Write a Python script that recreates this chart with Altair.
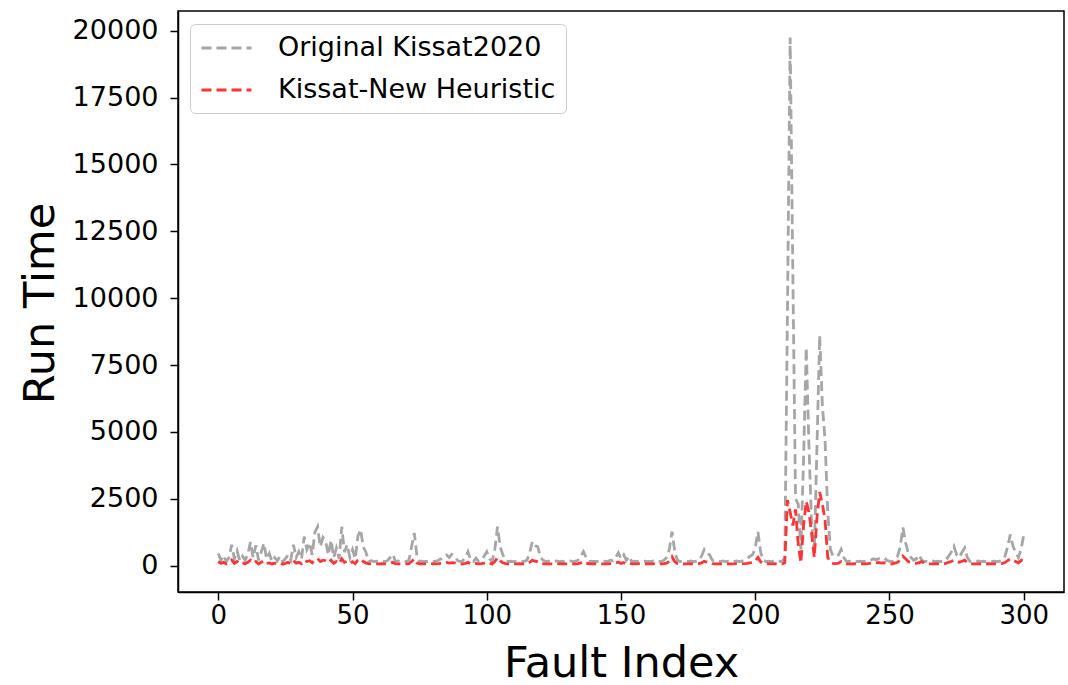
import altair as alt
import pandas as pd

# Run time per fault, original solver
original_runtime = [
    450, 200, 380, 150, 300, 780, 250, 550, 180, 350, 200, 420, 880, 300, 760, 200, 500, 840, 250, 450,
    150, 300, 180, 350, 150, 250, 400, 200, 780, 300, 520, 250, 1080, 600, 850, 400, 1250, 1450, 700, 1050,
    900, 400, 950, 300, 650, 250, 1450, 500, 780, 300, 600, 250, 1100, 1350, 700, 500, 150, 180, 150, 160,
    150, 170, 150, 180, 300, 420, 150, 170, 150, 160, 150, 200, 700, 1220, 350, 150, 160, 150, 150, 170,
    150, 160, 200, 250, 350, 400, 300, 420, 350, 200, 150, 170, 300, 520, 200, 150, 280, 150, 200, 350,
    520, 250, 150, 600, 1450, 700, 400, 200, 150, 160, 150, 150, 170, 150, 160, 200, 500, 900, 750, 700,
    300, 200, 150, 160, 150, 150, 170, 150, 160, 150, 150, 170, 150, 160, 200, 350, 520, 300, 150, 160,
    150, 150, 170, 150, 160, 150, 200, 180, 300, 480, 250, 400, 200, 350, 150, 160, 150, 170, 150, 160,
    150, 150, 170, 150, 160, 150, 200, 300, 600, 1270, 550, 200, 150, 160, 150, 150, 170, 150, 160, 200,
    350, 600, 450, 400, 200, 150, 160, 150, 170, 150, 160, 150, 150, 170, 150, 160, 200, 250, 350, 400,
    650, 1270, 500, 200, 150, 160, 150, 170, 150, 160,
    150, 300, 9500, 19750, 11000, 2500, 2300, 600, 4000, 8150, 4500, 1500, 500, 4500, 8600, 6000, 4700, 2000, 600, 350,
    350, 400, 600, 300, 150, 160, 150, 170, 150, 160, 150, 150, 170, 200, 250, 220, 260, 250, 280, 200,
    160, 150, 250, 350, 700, 1420, 850, 480, 300, 200, 250, 400, 200, 150, 160, 150, 170, 150, 160, 150,
    150, 200, 350, 500, 720, 400, 300, 500, 660, 300, 150, 160, 150, 170, 150, 160, 150, 170, 150, 160,
    150, 160, 200, 350, 700, 1160, 720, 500, 300, 600, 1150,
]

# Run time per fault, solver with the new heuristic
heuristic_runtime = [
    150, 80, 120, 60, 100, 200, 80, 150, 60, 100, 70, 120, 200, 90, 150, 60, 120, 180, 80, 100,
    60, 90, 70, 100, 50, 80, 120, 60, 180, 90, 120, 70, 200, 150, 180, 100, 220, 260, 150, 200,
    180, 100, 200, 80, 150, 70, 250, 120, 160, 80, 140, 70, 200, 250, 150, 100, 60, 70, 60, 65,
    60, 70, 60, 65, 80, 120, 60, 65, 60, 70, 60, 70, 150, 250, 100, 60, 65, 60, 60, 70,
    60, 65, 70, 80, 100, 120, 90, 110, 100, 70, 60, 65, 80, 120, 70, 60, 80, 60, 70, 90,
    120, 80, 60, 150, 300, 180, 100, 70, 60, 65, 60, 60, 70, 60, 65, 70, 120, 200, 160, 150,
    90, 70, 60, 65, 60, 60, 70, 60, 65, 60, 60, 70, 60, 65, 70, 100, 150, 90, 60, 65,
    60, 60, 70, 60, 65, 60, 70, 65, 90, 130, 80, 110, 70, 100, 60, 65, 60, 70, 60, 65,
    60, 60, 70, 60, 65, 60, 70, 90, 160, 330, 150, 70, 60, 65, 60, 60, 70, 60, 65, 70,
    100, 160, 130, 110, 70, 60, 65, 60, 70, 60, 65, 60, 60, 70, 60, 65, 70, 80, 100, 110,
    170, 300, 140, 70, 60, 65, 60, 70, 60, 65,
    60, 100, 2450, 2000, 1500, 2100, 800, 100, 1500, 2400, 2000, 1200, 300, 1800, 2750, 2300, 1700, 300, 120, 80,
    70, 90, 150, 90, 60, 65, 60, 70, 60, 65, 60, 60, 70, 90, 110, 100, 120, 90, 110, 70,
    65, 60, 90, 120, 200, 350, 250, 150, 120, 100, 80, 110, 150, 80, 60, 65, 60, 70, 60, 65,
    60, 80, 120, 150, 200, 150, 120, 160, 200, 110, 60, 65, 60, 70, 60, 65, 60, 70, 60, 65,
    60, 65, 80, 110, 180, 250, 200, 150, 100, 180, 330,
]

series_names = ["Original Kissat2020", "Kissat-New Heuristic"]
series_colors = ["#a6a6a6", "#ff3333"]
x_ticks = [0, 50, 100, 150, 200, 250, 300]
y_ticks = [0, 2500, 5000, 7500, 10000, 12500, 15000, 17500, 20000]

assert len(original_runtime) == len(heuristic_runtime)
fault_index = list(range(len(original_runtime)))

df_orig = pd.DataFrame({"idx": fault_index, "runtime": original_runtime, "series": series_names[0]})
df_new = pd.DataFrame({"idx": fault_index, "runtime": heuristic_runtime, "series": series_names[1]})

FONT = "DejaVu Sans"

x_enc = alt.X(
    "idx:Q",
    scale=alt.Scale(domain=[-15, 315], nice=False, zero=False),
    axis=alt.Axis(
        values=x_ticks, title="Fault Index", grid=False,
        labelFontSize=26, labelFont=FONT, labelColor="black", labelPadding=2,
        tickSize=8, tickWidth=1.5, tickColor="black",
        domainColor="black", domainWidth=1.5,
        titleFontSize=43, titleFont=FONT, titleFontWeight="normal", titleColor="black",
        titleY=84, titleBaseline="alphabetic",
    ),
)
y_enc = alt.Y(
    "runtime:Q",
    scale=alt.Scale(domain=[-990, 20740], nice=False, zero=False),
    axis=alt.Axis(
        values=y_ticks, format="d", title="Run Time", grid=False,
        labelFontSize=27, labelFont=FONT, labelColor="black", labelPadding=12,
        tickSize=8, tickWidth=1.5, tickColor="black",
        domainColor="black", domainWidth=1.5,
        titleFontSize=43, titleFont=FONT, titleFontWeight="normal", titleColor="black",
        titleX=-125, titleY=292, titleBaseline="alphabetic",
    ),
)
color_enc = alt.Color(
    "series:N",
    scale=alt.Scale(domain=series_names, range=series_colors),
    legend=alt.Legend(
        orient="none", legendX=12, legendY=13, title=None,
        symbolType="M-1,0L3,0", symbolSize=625, symbolStrokeWidth=3, symbolDash=[10, 5],
        labelFontSize=27, labelFont=FONT, labelColor="black", labelOffset=50,
        rowPadding=15, padding=10, fillColor="white", strokeColor="#cccccc",
        cornerRadius=5, labelLimit=400,
    ),
)

line_orig = alt.Chart(df_orig).mark_line(strokeDash=[10, 5], strokeWidth=2.8).encode(
    x=x_enc, y=y_enc, color=color_enc
)
line_new = alt.Chart(df_new).mark_line(strokeDash=[10, 5], strokeWidth=2.8).encode(
    x=x_enc, y=y_enc, color=color_enc
)

chart = (
    alt.layer(line_orig, line_new)
    .properties(
        width=886, height=581, autosize="none",
        padding={"left": 178, "top": 11, "right": 4, "bottom": 93},
        background="white",
    )
    .configure_view(stroke="black", strokeWidth=1.5)
)

chart.save("out.html", embed_options={"renderer": "svg", "actions": False})
